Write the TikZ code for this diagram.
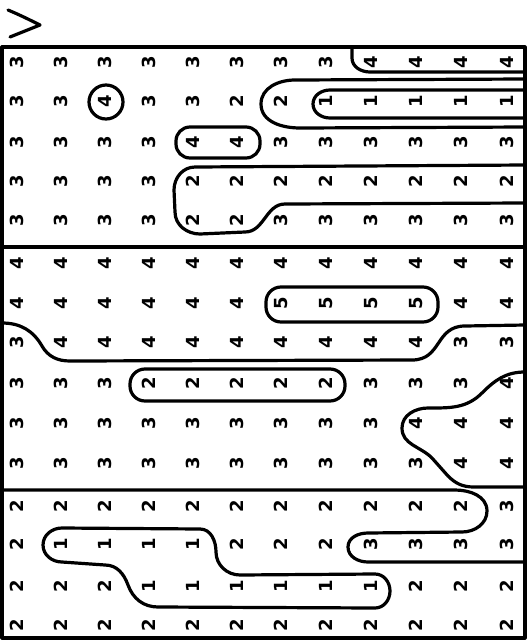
\documentclass[tikz,border=0pt]{standalone}
\usepackage{fontspec}
\setmainfont{DejaVu Sans}
\begin{document}
\begin{tikzpicture}[x=1pt,y=-1pt,
  dig/.style={font=\fontsize{18}{18}\selectfont\bfseries, rotate=90, inner sep=0pt},
  contour/.style={line width=3.2pt, line join=round, line cap=round}]
\useasboundingbox (0,0) rectangle (530,641);
% arrow mark
\draw[contour] (8,10) .. controls (20,15) and (30,20) .. (40,25) -- (10,37);
% frame and band lines
\draw[contour] (2,47) rectangle (525,638);
\draw[contour] (2,247) -- (525,247);
% digits
\foreach \row [count=\r] in {
 {3,3,3,3,3,3,3,3,4,4,4,4},
 {3,3,4,3,3,2,2,1,1,1,1,1},
 {3,3,3,3,4,4,3,3,3,3,3,3},
 {3,3,3,3,2,2,2,2,2,2,2,2},
 {3,3,3,3,2,2,3,3,3,3,3,3},
 {4,4,4,4,4,4,4,4,4,4,4,4},
 {4,4,4,4,4,4,5,5,5,5,4,4},
 {3,4,4,4,4,4,4,4,4,4,3,3},
 {3,3,3,2,2,2,2,2,3,3,3,4},
 {3,3,3,3,3,3,3,3,3,4,4,4},
 {3,3,3,3,3,3,3,3,3,3,4,4},
 {2,2,2,2,2,2,2,2,2,2,2,3},
 {2,1,1,1,1,2,2,2,3,3,3,3},
 {2,2,2,1,1,1,1,1,1,2,2,2},
 {2,2,2,2,2,2,2,2,2,2,2,2}} {
  \pgfmathsetmacro{\yy}{{62,101,142,181,220,263,303,342,383,423,463,506,544,586,625}[\r-1]}
  \foreach \v [count=\c] in \row {
    \pgfmathsetmacro{\xx}{{17,61,105,149,193,237,281,326,371,416,461,507}[\c-1]}
    \node[dig] (d\r-\c) at (\xx,\yy) {\v};
  }
}
% top band contours
\draw[contour] (352,48) -- (352,58) to[out=-90,in=180] (370,72) -- (525,72);
\draw[contour] (525,79) -- (295,80) to[out=180,in=90] (261,104) to[out=-90,in=180] (300,128) -- (525,127);
\draw[contour] (525,90) -- (330,90) to[out=180,in=90] (313,104) to[out=-90,in=180] (330,118) -- (525,118);
\draw[contour] (106,102) circle (17);
\draw[contour, rounded corners=14pt] (176,127) rectangle (260,158);
\draw[contour] (525,165) -- (195,167) to[out=180,in=90] (174,190) -- (175,212) to[out=-90,in=180] (200,234) -- (245,232) to[out=0,in=180] (285,204) -- (525,203);
% middle band contours
\draw[contour, rounded corners=15pt] (266,287) rectangle (438,322);
\draw[contour] (2,323) to[out=0,in=120] (42,346) to[out=-60,in=180] (70,361) -- (412,360) .. controls (442,360) and (435,326) .. (465,326) -- (525,325);
\draw[contour, rounded corners=15pt] (130,369) rectangle (345,401);
\draw[contour] (525,372) to[out=180,in=45] (482,393) to[out=-135,in=0] (428,408) to[out=180,in=90] (402,428) to[out=-90,in=135] (432,458) -- (448,476) to[out=-45,in=180] (474,487) -- (525,487);
% bottom band contours
\draw[contour] (2,490) -- (455,490) to[out=0,in=90] (487,511) to[out=-90,in=0] (462,532) -- (368,533) to[out=180,in=90] (348,547) to[out=-90,in=180] (368,562) -- (525,562);
\draw[contour] (200,529) -- (62,528) to[out=180,in=90] (43,545) to[out=-90,in=180] (62,562) -- (105,565) to[out=0,in=110] (128,585) to[out=-70,in=180] (158,607) -- (375,608) to[out=0,in=-90] (390,591) to[out=90,in=0] (375,574) -- (240,575) to[out=180,in=-90] (216,552) to[out=90,in=0] (200,529);
\end{tikzpicture}
\end{document}
